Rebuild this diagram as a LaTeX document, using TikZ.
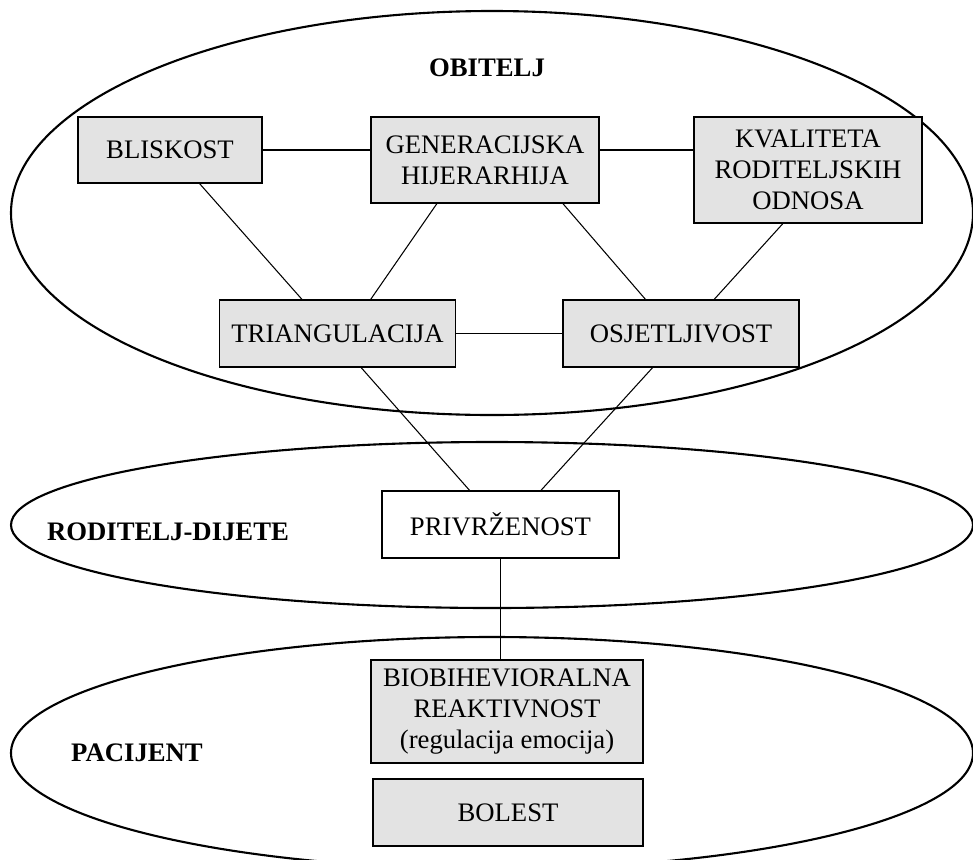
\documentclass[tikz,border=0pt]{standalone}
\usepackage{fontspec}
\setmainfont{Liberation Serif}
\usetikzlibrary{calc}
\tikzset{box/.style={draw,fill=black!11,line width=0.8pt,align=center,inner sep=2pt,
font=\fontsize{15.2}{17.5}\selectfont},
wbox/.style={box,fill=white},
ring/.style={line width=1.2pt},
link/.style={line width=0.6pt},
grp/.style={font=\fontsize{15.2}{17.5}\selectfont\bfseries}}

\begin{document}
\begin{tikzpicture}[x=0.02cm,y=-0.02cm]
\useasboundingbox (0,0) rectangle (973,859);
% the three levels
\draw[ring] (492,213) ellipse [x radius=481,y radius=202];
\draw[ring] (492,525) ellipse [x radius=481,y radius=83];
\draw[ring] (492,753) ellipse [x radius=481,y radius=116];
\node[grp] (obitelj) at (487,68) {OBITELJ};
\node[grp] (rd) at (168,532) {RODITELJ-DIJETE};
\node[grp] (pac) at (137,753) {PACIJENT};

\node[box,minimum width=3.68cm,minimum height=1.32cm] (bliskost) at (170,150) {BLISKOST};
\node[box,minimum width=4.56cm,minimum height=1.72cm] (hijer) at (485,160) {GENERACIJSKA\\HIJERARHIJA};
\node[box,minimum width=4.56cm,minimum height=2.12cm] (kval) at (808,170) {KVALITETA\\RODITELJSKIH\\ODNOSA};
\node[box,minimum width=4.72cm,minimum height=1.34cm] (triang) at (337.5,333.5) {TRIANGULACIJA};
\node[box,minimum width=4.72cm,minimum height=1.34cm] (osjet) at (681,333.5) {OSJETLJIVOST};
\node[wbox,minimum width=4.74cm,minimum height=1.34cm] (privr) at (500.5,524.5) {PRIVRŽENOST};
\node[box,minimum width=5.44cm,minimum height=2.06cm] (biob) at (507,711.5) {BIOBIHEVIORALNA\\REAKTIVNOST\\(regulacija emocija)};
\node[box,minimum width=5.40cm,minimum height=1.34cm] (bolest) at (508,812.5) {BOLEST};

% links
\draw[link] (bliskost.east) -- (bliskost.east -| hijer.west);
\draw[link] (bliskost.east -| hijer.east) -- (bliskost.east -| kval.west);
\draw[link] (triang) -- (osjet);
\draw[link] ($(bliskost.south west)!0.66!(bliskost.south east)$) -- ($(triang.north west)!0.35!(triang.north east)$);
\draw[link] ($(hijer.south west)!0.29!(hijer.south east)$) -- ($(triang.north west)!0.64!(triang.north east)$);
\draw[link] ($(hijer.south west)!0.84!(hijer.south east)$) -- ($(osjet.north west)!0.35!(osjet.north east)$);
\draw[link] ($(kval.south west)!0.39!(kval.south east)$) -- ($(osjet.north west)!0.64!(osjet.north east)$);
\draw[link] ($(triang.south west)!0.6!(triang.south east)$) -- ($(privr.north west)!0.37!(privr.north east)$);
\draw[link] ($(osjet.south west)!0.38!(osjet.south east)$) -- ($(privr.north west)!0.67!(privr.north east)$);
\draw[link] (privr.south) -- (privr.south |- biob.north);
\end{tikzpicture}
\end{document}
